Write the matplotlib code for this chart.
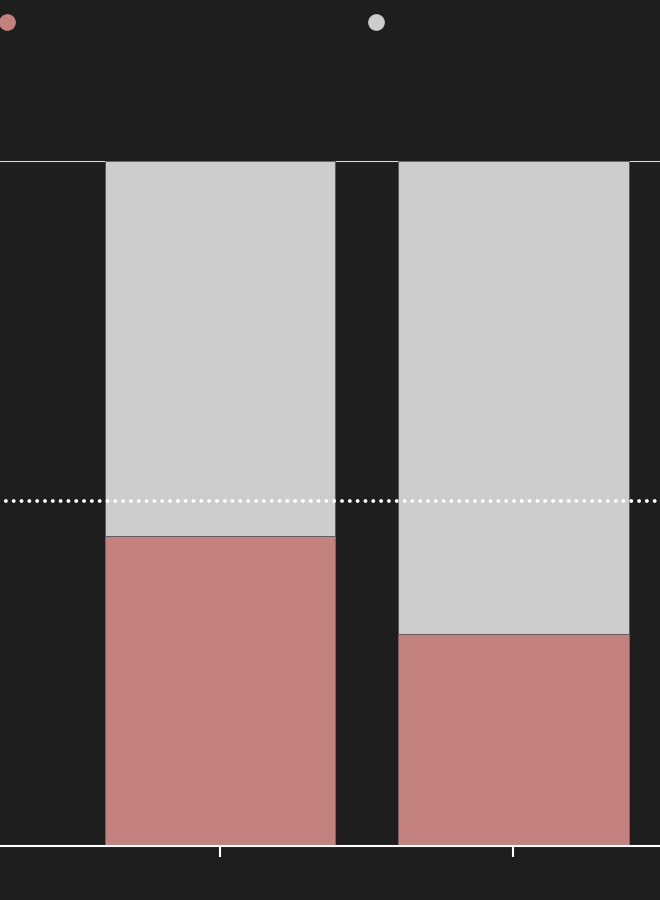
import numpy as np
import matplotlib.pyplot as plt
from matplotlib.lines import Line2D

BG = '#1e1e1e'
PINK = '#c4827f'
GREY = '#cdcdcd'

groups = ['A', 'B']
share_pink = [45.3, 31.0]
share_grey = [100 - v for v in share_pink]
reference = 50.4

fig = plt.figure(figsize=(6.6, 9), dpi=100, facecolor=BG)
ax = fig.add_axes([0, 54 / 900, 1, 685 / 900])
ax.set_facecolor(BG)

x = np.arange(len(groups))
ax.bar(x, share_pink, width=0.787, color=PINK, edgecolor='#8a6260', linewidth=0.6, zorder=2)
ax.bar(x, share_grey, bottom=share_pink, width=0.787, color=GREY, edgecolor='#555555', linewidth=0.6, zorder=2)

ax.axhline(reference, color='white', linewidth=2.8, linestyle=(0.5, (0.01, 2.0)),
           dash_capstyle='round', zorder=3)
ax.axhline(100, color='#dddddd', linewidth=1.5, zorder=1)

ax.set_xlim(-0.75, 1.5)
ax.set_ylim(0, 100)
for s in ['top', 'left', 'right']:
    ax.spines[s].set_visible(False)
ax.spines['bottom'].set_color('white')
ax.spines['bottom'].set_linewidth(1.5)
ax.set_xticks(x)
ax.set_xticklabels(['', ''])
ax.tick_params(axis='x', colors='white', length=8, width=1.5)
ax.set_yticks([])

h1 = Line2D([], [], marker='o', linestyle='', color=PINK, markersize=11)
h2 = Line2D([], [], marker='o', linestyle='', color=GREY, markersize=11)
leg1 = fig.legend([h1], [''], loc='center left', bbox_to_anchor=(0.0016, 1 - 23 / 900),
                  frameon=False, handlelength=0.8, handletextpad=0, borderpad=0, borderaxespad=0)
leg2 = fig.legend([h2], [''], loc='center left', bbox_to_anchor=(370 / 660, 1 - 23 / 900),
                  frameon=False, handlelength=0.8, handletextpad=0, borderpad=0, borderaxespad=0)

fig.savefig('out.png', dpi=100, facecolor=BG)
